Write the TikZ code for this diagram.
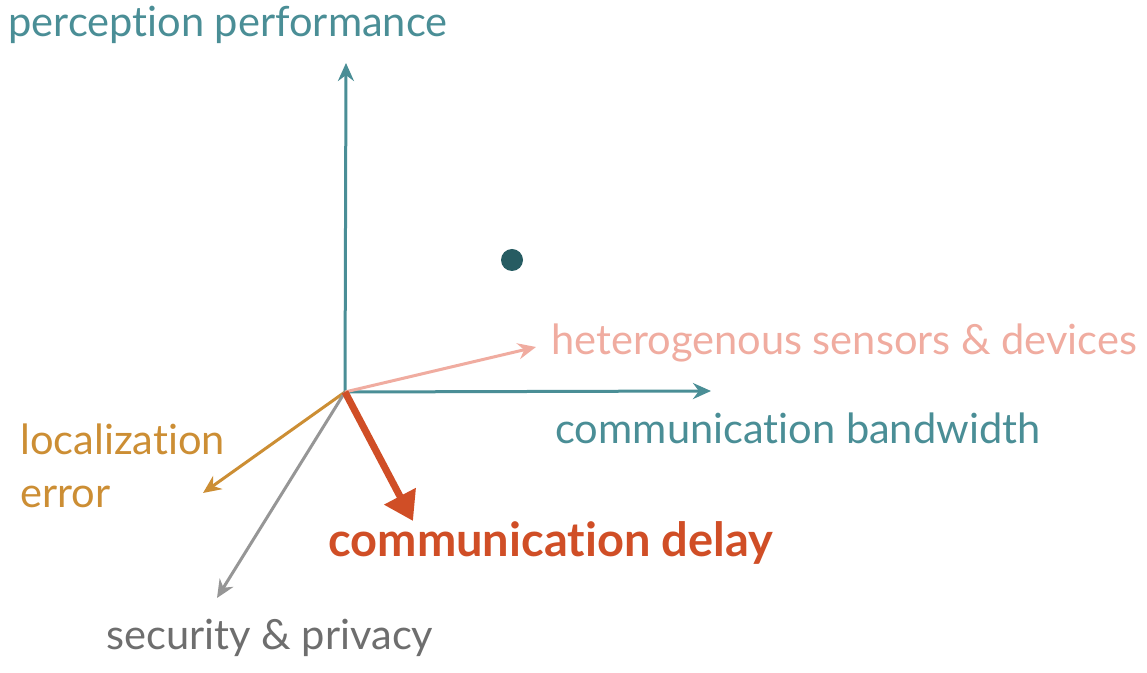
\documentclass[tikz,border=0pt]{standalone}
\usepackage{fontspec}
\setmainfont[Ligatures={NoCommon}]{Lato}
\usetikzlibrary{arrows.meta}
\definecolor{axisteal}{RGB}{74,142,150}
\definecolor{dotteal}{RGB}{38,92,98}
\definecolor{sensorpink}{RGB}{240,172,160}
\definecolor{locorange}{RGB}{204,142,52}
\definecolor{secgray}{RGB}{150,150,150}
\definecolor{delayred}{RGB}{208,78,38}
\definecolor{textgray}{RGB}{110,110,110}
\begin{document}
\begin{tikzpicture}[x=0.5pt, y=-0.5pt,
        axis/.style={line width=1.5pt, -{Stealth[length=9pt, width=8pt]}},
        dim_label/.style={font=\fontsize{20.8}{26.5}\selectfont, anchor=base west, inner sep=0pt},
        data_point/.style={circle, fill=dotteal, inner sep=0pt, minimum size=11pt}
    ]
    \useasboundingbox[fill=white] (0,0) rectangle (1147,673);

    % Origine e punte
    \coordinate (o) at (345,392);
    \coordinate (perf) at (346,63);
    \coordinate (bw) at (711,391);
    \coordinate (het) at (536,347);
    \coordinate (delay) at (413,521);
    \coordinate (loc) at (203,493);
    \coordinate (sec) at (217,598);

    % Assi principali
    \draw[axis, axisteal] (o) -- (perf);
    \draw[axis, axisteal] (o) -- (bw);

    % Assi secondari
    \draw[axis, sensorpink] (o) -- (het);
    \draw[axis, locorange] (o) -- (loc);
    \draw[axis, secgray] (o) -- (sec);
    \draw[line width=3.5pt, delayred, -{Triangle[length=14pt, width=17pt]}] (o) -- (delay);

    % Punto
    \node[data_point] (pt) at (512,260) {};

    % Etichette
    \node[dim_label, text=axisteal] (perf_lbl) at (8,37) {perception performance};
    \node[dim_label, text=sensorpink] (het_lbl) at (551,355) {heterogenous sensors \& devices};
    \node[dim_label, text=axisteal] (bw_lbl) at (555,444) {communication bandwidth};
    \node[dim_label, text=locorange, align=left, anchor=base west] (loc_lbl) at (20,508) {localization\\error};
    \node[dim_label, text=delayred, font=\fontsize{23.5}{28}\selectfont\bfseries] (delay_lbl) at (328,557) {communication delay};
    \node[dim_label, text=textgray] (sec_lbl) at (106,650) {security \& privacy};
\end{tikzpicture}
\end{document}
